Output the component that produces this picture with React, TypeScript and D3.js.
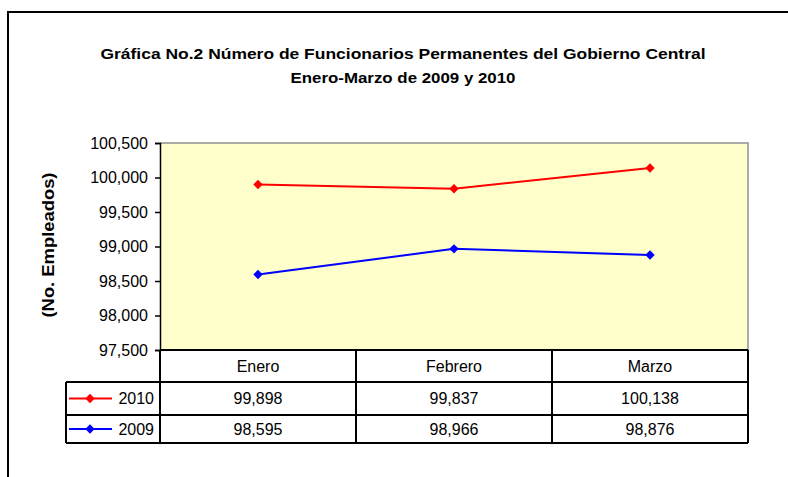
import React, { useRef, useEffect } from 'react';
import * as d3 from 'd3';

const months = ['Enero', 'Febrero', 'Marzo'];
const years = ['2010', '2009'];
const values2010 = [99898, 99837, 100138];
const values2009 = [98595, 98966, 98876];
const yTicks = [97500, 98000, 98500, 99000, 99500, 100000, 100500];
const seriesColors = ['#FF0000', '#0000FF'];

const titleLines = [
  'Gráfica No.2 Número de Funcionarios Permanentes del Gobierno Central',
  'Enero-Marzo de 2009 y 2010',
];
const yLabel = '(No. Empleados)';

export default function App() {
  const svgRef = useRef<SVGSVGElement>(null);

  useEffect(() => {
    const width = 788;
    const height = 477;
    const font = 'Arial, "Liberation Sans", sans-serif';

    const plotLeft = 160;
    const plotRight = 748;
    const plotTop = 143;
    const plotBottom = 350;
    const legendLeft = 66;
    const rowEdges = [350, 382, 415, 443];
    // the source rendering is a bit stretched sideways
    const titleWidths = [605, 225];

    const series = [values2010, values2009];

    const svg = d3.select(svgRef.current);
    svg.selectAll('*').remove();
    svg.attr('width', width).attr('height', height)
      .attr('viewBox', [0, 0, width, height])
      .style('font-family', font);

    svg.append('rect')
      .attr('width', width).attr('height', height)
      .attr('fill', 'white');

    // outer border (runs off right and bottom)
    svg.append('path')
      .attr('d', `M8,${height}V12H${width}`)
      .attr('fill', 'none')
      .attr('stroke', 'black')
      .attr('stroke-width', 2);

    const x = d3.scaleBand()
      .domain(months)
      .range([plotLeft, plotRight])
      .padding(0);

    const y = d3.scaleLinear()
      .domain([d3.min(yTicks), d3.max(yTicks)])
      .range([plotBottom, plotTop]);

    // plot background
    svg.append('rect')
      .attr('x', plotLeft).attr('y', plotTop)
      .attr('width', plotRight - plotLeft)
      .attr('height', plotBottom - plotTop)
      .attr('fill', '#FFFFCC');

    svg.append('path')
      .attr('d', `M${plotLeft},${plotTop}H${plotRight}V${plotBottom}`)
      .attr('fill', 'none')
      .attr('stroke', '#909090')
      .attr('stroke-width', 1.5);

    // title
    svg.append('g')
      .selectAll('text')
      .data(titleLines)
      .join('text')
      .attr('x', 403)
      .attr('y', (d, i) => 59 + i * 24)
      .attr('text-anchor', 'middle')
      .attr('font-size', '15.5px')
      .attr('font-weight', 'bold')
      .attr('fill', 'black')
      .attr('textLength', (d, i) => titleWidths[i])
      .attr('lengthAdjust', 'spacingAndGlyphs')
      .text(d => d);

    // y axis
    const yAxis = svg.append('g')
      .attr('transform', `translate(${plotLeft},0)`)
      .call(d3.axisLeft(y).tickValues(yTicks).tickFormat(d3.format(',')).tickSize(5).tickPadding(7));
    yAxis.select('.domain').attr('stroke', 'black').attr('stroke-width', 1.5);
    yAxis.selectAll('.tick line').attr('stroke', 'black').attr('stroke-width', 1.5);
    yAxis.selectAll('.tick text')
      .attr('font-size', '16px')
      .attr('font-family', font)
      .attr('fill', 'black');

    svg.append('text')
      .attr('transform', `translate(54,245) rotate(-90)`)
      .attr('text-anchor', 'middle')
      .attr('font-size', '16.5px')
      .attr('font-weight', 'bold')
      .attr('fill', 'black')
      .attr('textLength', 145)
      .attr('lengthAdjust', 'spacingAndGlyphs')
      .text(yLabel);

    // lines and markers
    const line = d3.line<number>()
      .x((d, i) => x(months[i]) + x.bandwidth() / 2)
      .y(d => y(d));

    const diamond = d3.symbol().type(d3.symbolSquare).size(44);

    series.forEach((vals, s) => {
      svg.append('path')
        .datum(vals)
        .attr('d', line)
        .attr('fill', 'none')
        .attr('stroke', seriesColors[s])
        .attr('stroke-width', 2);

      svg.append('g')
        .selectAll('path')
        .data(vals)
        .join('path')
        .attr('d', diamond)
        .attr('transform', (d, i) => `translate(${x(months[i]) + x.bandwidth() / 2},${y(d)}) rotate(45)`)
        .attr('fill', seriesColors[s]);
    });

    // data table
    const table = svg.append('g')
      .attr('stroke', 'black')
      .attr('stroke-width', 2)
      .attr('fill', 'none');

    table.append('line')
      .attr('x1', plotLeft).attr('x2', plotRight)
      .attr('y1', rowEdges[0]).attr('y2', rowEdges[0]);
    rowEdges.slice(1).forEach(ry => {
      table.append('line')
        .attr('x1', legendLeft).attr('x2', plotRight)
        .attr('y1', ry).attr('y2', ry);
    });
    table.append('line')
      .attr('x1', legendLeft).attr('x2', legendLeft)
      .attr('y1', rowEdges[1]).attr('y2', rowEdges[3]);
    months.forEach(m => {
      table.append('line')
        .attr('x1', x(m)).attr('x2', x(m))
        .attr('y1', rowEdges[0]).attr('y2', rowEdges[3]);
    });
    table.append('line')
      .attr('x1', plotRight).attr('x2', plotRight)
      .attr('y1', rowEdges[0]).attr('y2', rowEdges[3]);

    const fmt = d3.format(',');
    const rowMid = (r: number) => (rowEdges[r] + rowEdges[r + 1]) / 2;

    svg.append('g')
      .selectAll('text')
      .data(months)
      .join('text')
      .attr('x', d => x(d) + x.bandwidth() / 2)
      .attr('y', rowMid(0))
      .attr('dy', '0.35em')
      .attr('text-anchor', 'middle')
      .attr('font-size', '16px')
      .attr('fill', 'black')
      .text(d => d);

    series.forEach((vals, s) => {
      const my = rowMid(s + 1);
      svg.append('g')
        .selectAll('text')
        .data(vals)
        .join('text')
        .attr('x', (d, i) => x(months[i]) + x.bandwidth() / 2)
        .attr('y', my)
        .attr('dy', '0.35em')
        .attr('text-anchor', 'middle')
        .attr('font-size', '16px')
        .attr('fill', 'black')
        .text(d => fmt(d));

      svg.append('line')
        .attr('x1', 69).attr('x2', 112)
        .attr('y1', my).attr('y2', my)
        .attr('stroke', seriesColors[s])
        .attr('stroke-width', 2);
      svg.append('path')
        .attr('d', diamond)
        .attr('transform', `translate(90,${my}) rotate(45)`)
        .attr('fill', seriesColors[s]);
      svg.append('text')
        .attr('x', 154)
        .attr('y', my)
        .attr('dy', '0.35em')
        .attr('text-anchor', 'end')
        .attr('font-size', '16px')
        .attr('fill', 'black')
        .text(years[s]);
    });
  }, []);

  return (
    <svg ref={svgRef} style={{ position: 'absolute', left: 0, top: 0, display: 'block' }}></svg>
  );
}
